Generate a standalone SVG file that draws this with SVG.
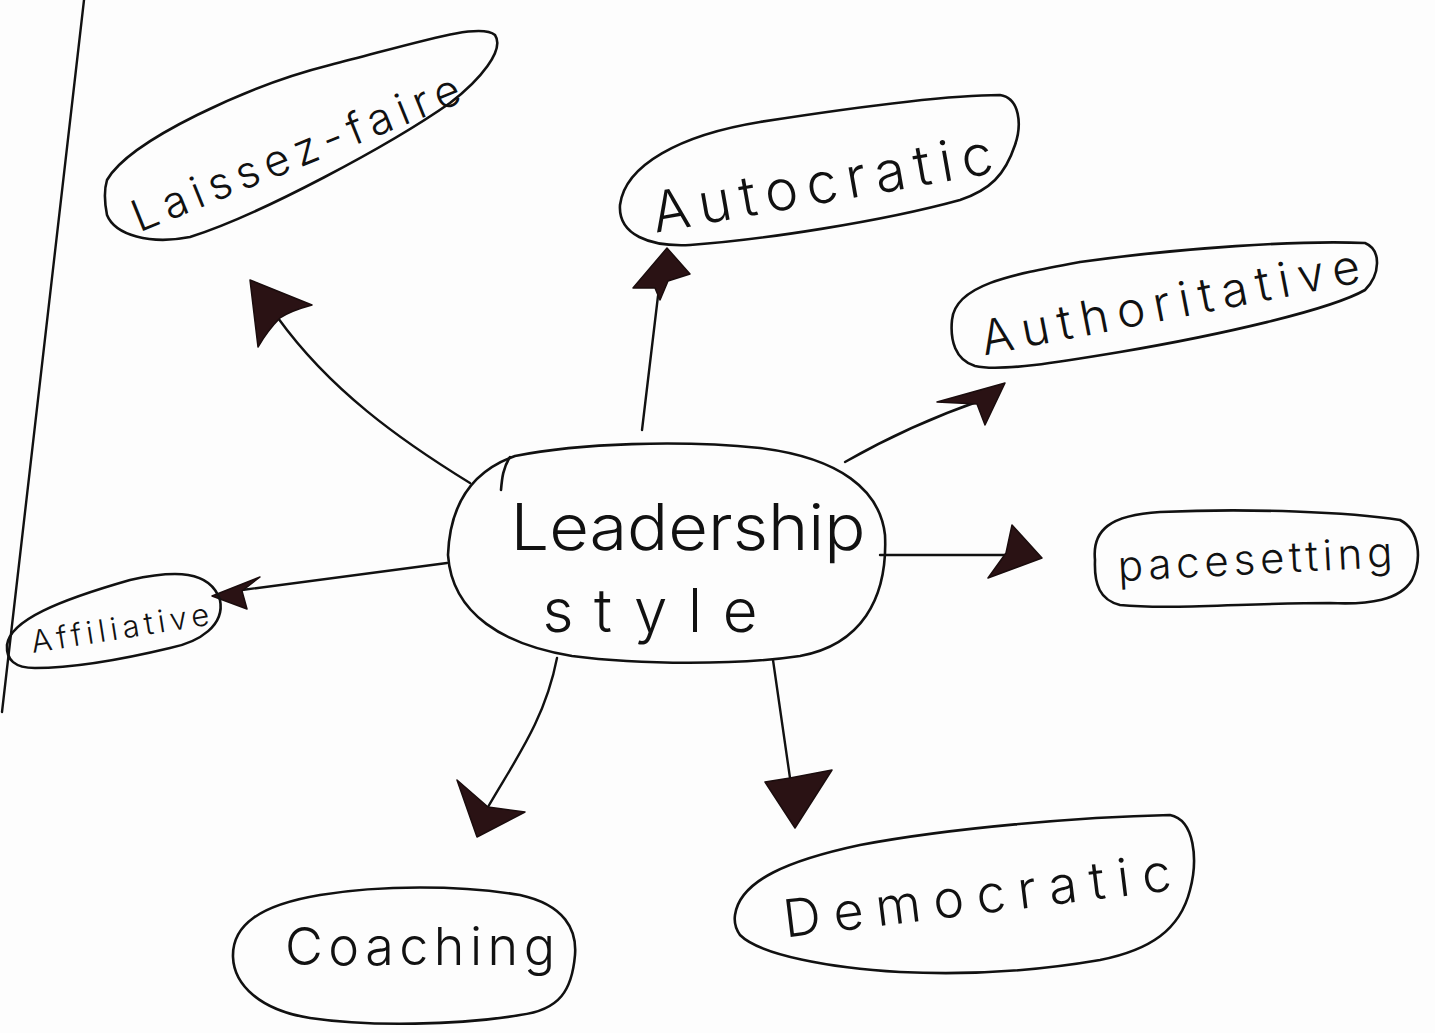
<svg xmlns="http://www.w3.org/2000/svg" width="1435" height="1033" viewBox="0 0 1435 1033">
  <style>
    .outline { fill: none; stroke: #111; stroke-width: 2.6; stroke-linejoin: round; stroke-linecap: round; }
    .link { fill: none; stroke: #111; stroke-width: 2.4; stroke-linecap: round; }
    .head { fill: #2a1214; stroke: #1a0c0d; stroke-width: 1.5; stroke-linejoin: round; }
    .label { font-family: "Inter", "Lato", "Liberation Sans", sans-serif; font-weight: 300; fill: #111; text-anchor: middle; }
  </style>
  <rect width="1435" height="1033" fill="#fdfdfd"/>

  <!-- page margin rule -->
  <path class="link" d="M84,0 L2,712"/>

  <!-- connectors -->
  <g id="connectors">
    <path class="link" d="M470,483 C400,440 330,390 278,318"/>
    <path class="head" d="M250,280 L312,305 Q290,311 280,318 Q268,330 258,347 Z"/>

    <path class="link" d="M642,430 L658,296"/>
    <path class="head" d="M667,248 L690,274 L668,281 L660,300 L655,288 L633,288 Z"/>

    <path class="link" d="M845,462 C880,442 930,418 982,400"/>
    <path class="head" d="M1005,383 L985,425 L977,404 L937,402 Z"/>

    <path class="link" d="M880,555 L1008,555"/>
    <path class="head" d="M1042,558 L988,578 L1006,553 L1012,525 Z"/>

    <path class="link" d="M447,563 L242,590"/>
    <path class="head" d="M212,596 L260,577 L242,591 L247,609 Z"/>

    <path class="link" d="M557,658 C545,720 515,760 488,807"/>
    <path class="head" d="M477,837 L457,780 L488,807 L525,812 Z"/>

    <path class="link" d="M773,660 L790,778"/>
    <path class="head" d="M765,782 L790,778 L832,770 L795,828 Z"/>
  </g>

  <!-- central node -->
  <g id="leadership-style">
    <path class="outline" d="M448,555 C450,500 475,470 515,456 C580,443 680,440 760,448 C840,458 880,490 885,535 C888,600 860,645 800,656 C740,665 640,665 572,656 C505,645 452,615 448,555 Z"/>
    <path class="outline" d="M510,457 C503,468 502,478 501,490"/>
    <text class="label" x="688" y="550" font-size="64" textLength="355" lengthAdjust="spacingAndGlyphs">Leadership</text>
    <text class="label" x="650" y="632" font-size="60" textLength="215" lengthAdjust="spacing">style</text>
  </g>

  <g id="laissez-faire">
    <path class="outline" d="M107,180 C130,140 250,85 330,65 C420,42 480,22 495,35 C505,50 480,80 450,103 C390,145 260,215 190,237 C150,245 115,235 107,215 C104,200 104,190 107,180 Z"/>
    <text class="label" transform="translate(296,153) rotate(-22)" y="15" font-size="44" textLength="350" lengthAdjust="spacing">Laissez-faire</text>
  </g>

  <g id="autocratic">
    <path class="outline" d="M620,205 C625,165 680,135 760,122 C850,108 950,95 1000,95 C1020,98 1022,125 1015,145 C1005,175 990,190 960,200 C880,222 760,240 690,245 C650,247 618,235 620,205 Z"/>
    <text class="label" transform="translate(822,183) rotate(-10)" y="20" font-size="56" textLength="345" lengthAdjust="spacing">Autocratic</text>
  </g>

  <g id="authoritative">
    <path class="outline" d="M952,320 C955,285 1010,275 1080,262 C1180,248 1300,240 1365,243 C1382,250 1380,275 1365,290 C1330,310 1220,335 1120,352 C1060,362 1000,372 975,366 C955,360 950,340 952,320 Z"/>
    <text class="label" transform="translate(1170,302) rotate(-11)" y="17" font-size="48" textLength="385" lengthAdjust="spacing">Authoritative</text>
  </g>

  <g id="pacesetting">
    <path class="outline" d="M1095,560 C1092,530 1110,515 1160,512 C1250,508 1350,512 1400,520 C1420,530 1422,560 1412,580 C1400,600 1370,605 1330,603 C1250,603 1170,610 1120,605 C1100,600 1094,585 1095,560 Z"/>
    <text class="label" transform="translate(1255,560) rotate(-3)" y="14" font-size="42" textLength="275" lengthAdjust="spacing">pacesetting</text>
  </g>

  <g id="affiliative">
    <path class="outline" d="M7,645 C10,620 60,600 130,580 C175,570 210,570 220,600 C225,625 200,642 170,648 C120,660 70,668 35,668 C15,668 6,660 7,645 Z"/>
    <text class="label" transform="translate(120,628) rotate(-9)" y="11" font-size="31" textLength="180" lengthAdjust="spacing">Affiliative</text>
  </g>

  <g id="coaching">
    <path class="outline" d="M233,957 C232,925 260,905 320,895 C380,885 460,885 520,895 C565,905 577,930 575,955 C572,990 560,1010 520,1015 C460,1025 370,1027 310,1018 C260,1010 234,985 233,957 Z"/>
    <text class="label" x="420" y="965" font-size="52" textLength="270" lengthAdjust="spacing">Coaching</text>
  </g>

  <g id="democratic">
    <path class="outline" d="M735,915 C740,880 790,860 860,845 C950,828 1080,817 1170,815 C1195,820 1198,860 1190,890 C1180,930 1150,950 1100,960 C1030,972 960,975 900,972 C830,968 760,955 740,935 C735,928 734,922 735,915 Z"/>
    <text class="label" transform="translate(977,895) rotate(-7)" y="19" font-size="52" textLength="390" lengthAdjust="spacing">Democratic</text>
  </g>
</svg>
